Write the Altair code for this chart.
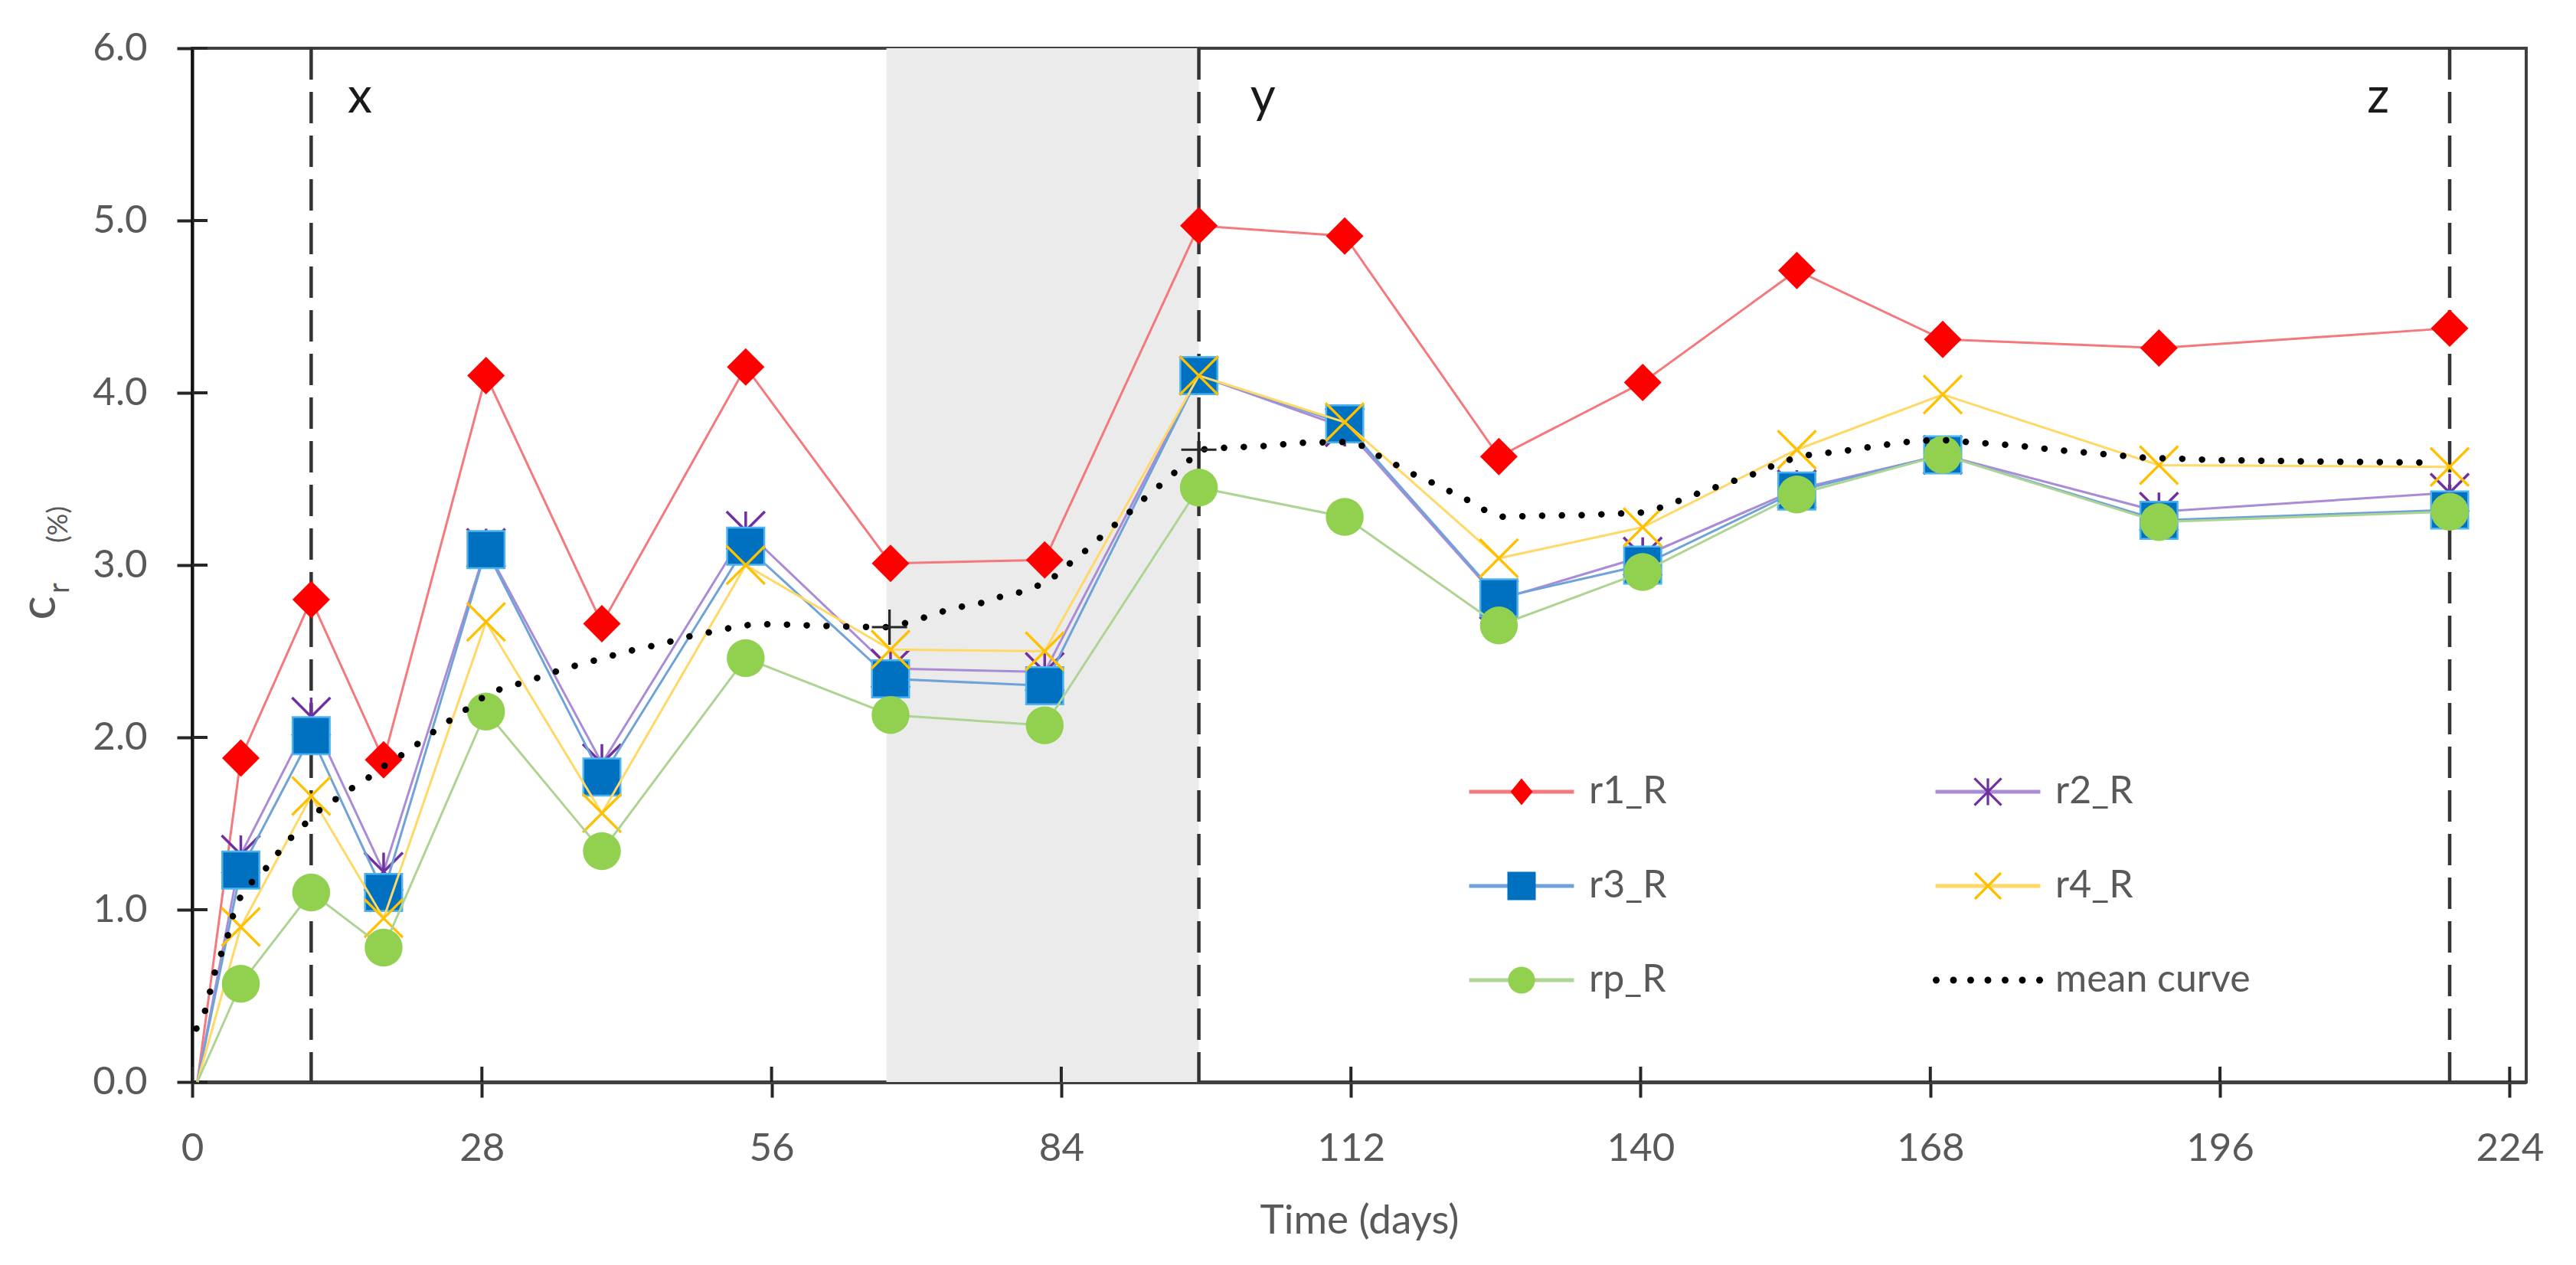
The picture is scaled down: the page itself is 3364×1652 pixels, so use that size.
import math
import altair as alt
import pandas as pd

FONT = "Lato"
GRAY = "#595959"
W, H = 3048, 1350

# ---------------- data ----------------
series = ["r1_R", "r2_R", "r3_R", "r4_R", "rp_R"]
mean_name = "mean curve"
start_day = 0.5
days = [4.7, 11.5, 18.5, 28.4, 39.6, 53.5, 67.5, 82.4, 97.3, 111.4, 126.3, 140.2, 155.1, 169.2, 190.1, 218.2]
r1 = [1.88, 2.80, 1.87, 4.10, 2.66, 4.15, 3.01, 3.03, 4.97, 4.91, 3.63, 4.06, 4.71, 4.31, 4.26, 4.375]
r2 = [1.32, 2.12, 1.22, 3.10, 1.85, 3.20, 2.40, 2.38, 4.10, 3.80, 2.80, 3.05, 3.44, 3.64, 3.31, 3.42]
r3 = [1.23, 2.01, 1.10, 3.09, 1.77, 3.11, 2.34, 2.30, 4.10, 3.82, 2.81, 3.00, 3.43, 3.64, 3.26, 3.32]
r4 = [0.90, 1.66, 0.95, 2.67, 1.56, 3.00, 2.51, 2.50, 4.10, 3.83, 3.04, 3.22, 3.67, 3.99, 3.58, 3.57]
rp = [0.57, 1.10, 0.78, 2.15, 1.34, 2.46, 2.13, 2.07, 3.45, 3.28, 2.65, 2.96, 3.41, 3.64, 3.25, 3.31]
values = [r1, r2, r3, r4, rp]

mean_day = [0.4, 1.3, 2.2, 2.9, 3.5, 4.0, 4.7, 5.9, 7.3, 8.5,
            9.8, 11.2, 12.6, 14.1, 15.8, 17.4, 18.9, 20.6, 22.3, 23.7,
            25.3, 26.9, 28.5, 30.2, 32.1, 34.1, 36.0, 37.9, 39.7, 41.5,
            43.5, 45.3, 47.2, 49.1, 50.9, 52.8, 54.7, 56.6, 58.5, 62.3,
            66.2, 67.4, 70.0, 71.9, 73.9, 75.8, 77.6, 79.4, 81.3, 82.9,
            84.2, 85.9, 87.4, 88.9, 90.3, 91.7, 93.2, 94.6, 96.1, 97.3,
            99.4, 103.3, 107.2, 111.1, 113.0, 114.5, 116.4, 118.1, 119.8, 121.5,
            123.2, 124.9, 126.7, 130.6, 134.4, 138.2, 140.1, 142.1, 144.0, 145.7,
            147.5, 149.3, 151.0, 152.9, 154.8, 156.7, 158.6, 160.6, 162.6, 164.5,
            166.4, 168.4, 170.2, 172.1, 174.0, 176.0, 177.9, 179.8, 181.7, 183.7,
            185.6, 187.4, 189.3, 191.2, 195.2, 206.8, 216.6]
mean_val = [0.31, 0.42, 0.64, 0.76, 0.86, 0.98, 1.08, 1.17, 1.25, 1.345,
            1.434, 1.515, 1.595, 1.65, 1.72, 1.78, 1.85, 1.91, 1.985, 2.05,
            2.115, 2.18, 2.25, 2.29, 2.32, 2.36, 2.40, 2.43, 2.46, 2.49,
            2.52, 2.54, 2.575, 2.60, 2.62, 2.647, 2.657, 2.657, 2.652, 2.645,
            2.64, 2.64, 2.68, 2.72, 2.755, 2.77, 2.81, 2.83, 2.87, 2.91,
            2.98, 3.06, 3.14, 3.22, 3.29, 3.37, 3.445, 3.52, 3.59, 3.67,
            3.68, 3.69, 3.71, 3.715, 3.695, 3.64, 3.58, 3.525, 3.48, 3.43,
            3.38, 3.32, 3.28, 3.287, 3.29, 3.30, 3.305, 3.337, 3.38, 3.42,
            3.457, 3.495, 3.53, 3.58, 3.62, 3.645, 3.655, 3.67, 3.69, 3.705,
            3.72, 3.725, 3.725, 3.71, 3.705, 3.695, 3.685, 3.67, 3.66, 3.65,
            3.64, 3.63, 3.62, 3.62, 3.61, 3.60, 3.595]
mean_mark_day = [67.4, 97.3]
mean_mark_val = [2.64, 3.67]

phase_day = [11.5, 97.3, 218.2]
phase_text = ["x", "y", "z"]
phase_text_day = [16.2, 103.5, 211.3]
phase_text_val = [5.71, 5.71, 5.71]
shade_from = [67.1]
shade_to = [97.3]

x_ticks = [0, 28, 56, 84, 112, 140, 168, 196, 224]
y_ticks = [0, 1, 2, 3, 4, 5, 6]
x_max = 225.6
y_max = 6

# ---------------- styles ----------------
line_colors = ["#F4787C", "#A98BD6", "#6FA3D8", "#FFD866", "#AED494"]
marker_colors = ["#FF0000", "#7030A0", "#0070C0", "#FFC000", "#92D050"]


def bar_poly(angle_deg, half_len, half_th, cx=0.0, cy=0.0):
    a = math.radians(angle_deg)
    c, s = math.cos(a), math.sin(a)
    pts = [(-half_len, -half_th), (half_len, -half_th), (half_len, half_th), (-half_len, half_th)]
    rot = [(cx + x * c - y * s, cy + x * s + y * c) for x, y in pts]
    return "M" + "L".join(f"{x:.4f},{y:.4f}" for x, y in rot) + "Z"


def circle_path(r, cx=0.0):
    return (f"M{cx + r:.4f},0A{r},{r} 0 1,1 {cx - r:.4f},0"
            f"A{r},{r} 0 1,1 {cx + r:.4f},0Z")


star_path = bar_poly(90, 1, 0.07) + bar_poly(45, 1.414, 0.07) + bar_poly(135, 1.414, 0.07)
x_path = bar_poly(45, 1.414, 0.065) + bar_poly(135, 1.414, 0.065)
plus_path = bar_poly(0, 1, 0.07) + bar_poly(90, 1, 0.07)

marker_specs = [
    dict(shape="diamond", size=2400),
    dict(shape=star_path, size=2500),
    dict(shape="square", size=2350, stroke="#4DB3F0", strokeWidth=2.5),
    dict(shape=x_path, size=2500),
    dict(shape="circle", size=2450),
]

# legend symbol paths (unit = 18.5 px, symbolSize 37^2)
ext = "M-3.9,0L-3.9,0ZM3.9,0L3.9,0Z"
leg_bar = ext + bar_poly(0, 3.7, 0.135)
leg_dots = ext + "".join(circle_path(0.243, -3.65 + i * (7.3 / 6)) for i in range(7))
leg_line_path = {s: leg_bar for s in series}
leg_line_path[mean_name] = leg_dots
leg_marker_path = {
    "r1_R": ext + "M0,-0.95L0.78,0L0,0.95L-0.78,0Z",
    "r2_R": ext + bar_poly(90, 0.95, 0.087) + bar_poly(45, 1.34, 0.087) + bar_poly(135, 1.34, 0.087),
    "r3_R": ext + "M-1,-1L1,-1L1,1L-1,1Z",
    "r4_R": ext + bar_poly(45, 1.3, 0.09) + bar_poly(135, 1.3, 0.09),
    "rp_R": ext + circle_path(0.95),
    mean_name: ext,
}
line_color_of = dict(zip(series, line_colors), **{mean_name: "#000000"})
marker_color_of = dict(zip(series, marker_colors), **{mean_name: "#000000"})
# legend columns are filled top-to-bottom: this order reads r1 r2 / r3 r4 / rp mean
legend_order = ["r1_R", "r3_R", "rp_R", "r2_R", "r4_R", mean_name]

xs = alt.Scale(domain=[0, x_max], nice=False, zero=False)
ys = alt.Scale(domain=[0, y_max], nice=False, zero=False)

x_axis = alt.Axis(values=x_ticks, format="d", title="Time (days)",
                  titleX=W / 2, titleY=197, titleAlign="center", titleBaseline="alphabetic",
                  titleFont=FONT, titleFontSize=53, titleFontWeight="normal", titleColor=GRAY,
                  labelFont=FONT, labelFontSize=51, labelColor=GRAY, labelPadding=42,
                  labelFlush=False, labelOverlap=False,
                  tickSize=20, tickWidth=4, tickColor="#262626",
                  domainColor="#404040", domainWidth=5, grid=False)
y_axis = alt.Axis(values=y_ticks, format=".1f", title="",
                  labelFont=FONT, labelFontSize=51, labelColor=GRAY, labelPadding=39,
                  labelFlush=False, labelOverlap=False,
                  tickSize=20, tickWidth=4, tickColor="#262626",
                  domainColor="#111111", domainWidth=4, grid=False)


def X(field):
    return alt.X(field, scale=xs, axis=x_axis)


def Y(field):
    return alt.Y(field, scale=ys, axis=y_axis)


layers = []

# shaded period
layers.append(
    alt.Chart(pd.DataFrame({"a": shade_from, "b": shade_to}))
    .mark_rect(color="#EBEBEB")
    .encode(x=X("a:Q"), x2="b:Q", y=alt.value(0), y2=alt.value(H))
)

# inner halves of the tick marks
layers.append(
    alt.Chart(pd.DataFrame({"v": y_ticks}))
    .mark_rule(color="#262626", strokeWidth=4)
    .encode(y=Y("v:Q"), x=alt.value(0), x2=alt.value(20))
)
layers.append(
    alt.Chart(pd.DataFrame({"d": x_ticks}))
    .mark_rule(color="#262626", strokeWidth=4)
    .encode(x=X("d:Q"), y=alt.value(H), y2=alt.value(H - 20))
)

# dashed phase lines
layers.append(
    alt.Chart(pd.DataFrame({"d": phase_day}))
    .mark_rule(color="#333333", strokeWidth=4.5, strokeDash=[41, 16])
    .encode(x=X("d:Q"), y=alt.value(0), y2=alt.value(H))
)

# series: line then markers, in Excel drawing order
for name, vals, lc, mc, spec in zip(series, values, line_colors, marker_colors, marker_specs):
    df_line = pd.DataFrame({"day": [start_day] + days, "value": [0.0] + vals})
    df_pts = pd.DataFrame({"day": days, "value": vals})
    layers.append(
        alt.Chart(df_line).mark_line(color=lc, strokeWidth=3)
        .encode(x=X("day:Q"), y=Y("value:Q"))
    )
    layers.append(
        alt.Chart(df_pts).mark_point(filled=True, fill=mc, opacity=1, **spec)
        .encode(x=X("day:Q"), y=Y("value:Q"))
    )

# mean curve (dotted)
layers.append(
    alt.Chart(pd.DataFrame({"day": mean_day, "value": mean_val}))
    .mark_line(color="#000000", strokeWidth=8.5, strokeDash=[0.1, 25.7], strokeCap="round")
    .encode(x=X("day:Q"), y=Y("value:Q"))
)
layers.append(
    alt.Chart(pd.DataFrame({"day": mean_mark_day, "value": mean_mark_val}))
    .mark_point(filled=True, fill="#262626", opacity=1, shape=plus_path, size=2116)
    .encode(x=X("day:Q"), y=Y("value:Q"))
)

# x / y / z labels
layers.append(
    alt.Chart(pd.DataFrame({"d": phase_text_day, "v": phase_text_val, "t": phase_text}))
    .mark_text(font=FONT, fontSize=64, color="#1A1A1A", align="center", baseline="middle")
    .encode(x=X("d:Q"), y=Y("v:Q"), text="t:N")
)

# y-axis title  c_r (%)
for txt, size, px, py in [("c", 66, -179, 731), ("r", 38, -161, 705), ("(%)", 36, -163, 622)]:
    layers.append(
        alt.Chart(pd.DataFrame({"t": [txt]}))
        .mark_text(font=FONT, fontSize=size, color=GRAY, angle=270,
                   align="center", baseline="alphabetic")
        .encode(x=alt.value(px), y=alt.value(py), text="t:N")
    )


# legends (two stacked legends: light lines underneath, markers on top)
def legend(zindex, label_opacity):
    return alt.Legend(title=None, orient="none", legendX=1711, legendY=946,
                      columns=2, columnPadding=346, rowPadding=73,
                      symbolSize=1369, symbolStrokeWidth=0, symbolOffset=0,
                      labelOffset=63, labelFont=FONT, labelFontSize=50, labelColor=GRAY,
                      labelOpacity=label_opacity, labelLimit=600, padding=0, zindex=zindex)


for path_of, color_of, z, lo in [(leg_line_path, line_color_of, 1, 1),
                                 (leg_marker_path, marker_color_of, 2, 0)]:
    layers.append(
        alt.Chart(pd.DataFrame({"series": legend_order}))
        .transform_filter("false")
        .mark_point(filled=True, opacity=1)
        .encode(
            color=alt.Color("series:N",
                            scale=alt.Scale(domain=legend_order,
                                            range=[color_of[s] for s in legend_order]),
                            legend=legend(z, lo), sort=legend_order),
            shape=alt.Shape("series:N",
                            scale=alt.Scale(domain=legend_order,
                                            range=[path_of[s] for s in legend_order]),
                            legend=legend(z, lo), sort=legend_order),
        )
    )

chart = (
    alt.layer(*layers)
    .resolve_scale(color="independent", shape="independent")
    .properties(width=W, height=H,
                autosize=alt.AutoSizeParams(type="none"),
                padding={"left": 243, "top": 55, "right": 45, "bottom": 215},
                background="white")
    .configure_view(stroke="#404040", strokeWidth=4)
)

chart.save("out.html", embed_options={"renderer": "svg", "actions": False})
